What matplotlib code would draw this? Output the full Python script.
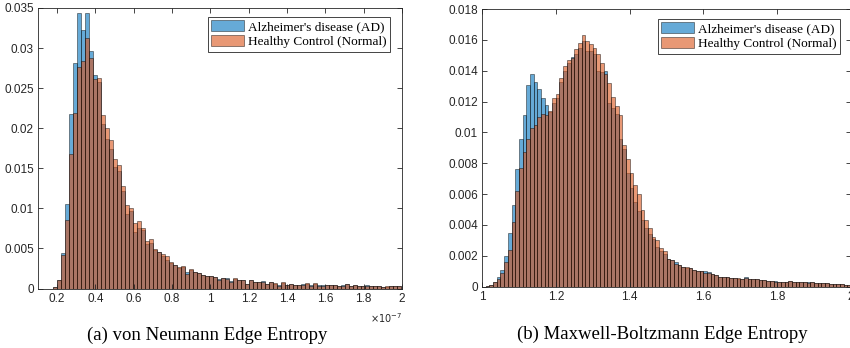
import numpy as np
import matplotlib
matplotlib.use("Agg")
import matplotlib.pyplot as plt

# ---- data (bin heights, probability normalisation) ----
# (a) von Neumann edge entropy, x in units of 1e-7
vn_start = 0.178
vn_width = 0.0209
vn_ad = [0.0002, 0.0011, 0.0044, 0.0105, 0.0218, 0.0281, 0.0344, 0.0323, 0.0344, 0.0296,
         0.0266, 0.0258, 0.0205, 0.0186, 0.0174, 0.0152, 0.0146, 0.0122, 0.0093, 0.0097,
         0.0071, 0.0076, 0.0073, 0.0055, 0.0057, 0.0048, 0.0045, 0.0040, 0.0036, 0.0032,
         0.0029, 0.0026, 0.0027, 0.0021, 0.0023, 0.0020,
         0.0019, 0.0017, 0.0016, 0.0015, 0.0014, 0.0012, 0.0013, 0.0013, 0.0009, 0.0012,
         0.0010, 0.0011, 0.0006, 0.0010, 0.0008, 0.0008, 0.0009, 0.0006, 0.0008, 0.0006,
         0.0004, 0.0007, 0.0004, 0.0005, 0.0004, 0.0004, 0.0005, 0.0006, 0.0004, 0.0006,
         0.0004, 0.0004, 0.0004, 0.0004, 0.0004, 0.0003, 0.0004, 0.0005, 0.0003, 0.0004,
         0.0003, 0.0003, 0.0004, 0.0003, 0.0003, 0.0003, 0.0002, 0.0002, 0.0003, 0.0003, 0.0003]
vn_nc = [0.0002, 0.0011, 0.0042, 0.0086, 0.0168, 0.0219, 0.0276, 0.0284, 0.0313, 0.0288,
         0.0262, 0.0263, 0.0217, 0.0200, 0.0185, 0.0162, 0.0154, 0.0128, 0.0104, 0.0100,
         0.0082, 0.0084, 0.0075, 0.0059, 0.0062, 0.0049, 0.0046, 0.0043, 0.0040, 0.0033,
         0.0029, 0.0027, 0.0028, 0.0018, 0.0024, 0.0021,
         0.0019, 0.0017, 0.0016, 0.0015, 0.0014, 0.0011, 0.0013, 0.0012, 0.00085, 0.0013,
         0.0010, 0.0010, 0.00056, 0.0011, 0.0008, 0.00085, 0.00085, 0.00056, 0.0008, 0.00065,
         0.00035, 0.0008, 0.0004, 0.00056, 0.0004, 0.0004, 0.0004, 0.00065, 0.00035, 0.00065,
         0.00035, 0.00035, 0.0004, 0.0004, 0.0004, 0.0003, 0.00035, 0.0005, 0.00035, 0.0004,
         0.0003, 0.00035, 0.00035, 0.0003, 0.0003, 0.0003, 0.0002, 0.00025, 0.0003, 0.0003, 0.0003]

# (b) Maxwell-Boltzmann edge entropy
mb_start = 1.0
mb_width = 0.01
mb_ad = [0.0, 0.00005, 0.0001, 0.0003, 0.0006, 0.0011, 0.0020, 0.0035, 0.0053, 0.0076,
         0.0096, 0.0111, 0.0131, 0.0138, 0.0133, 0.0128, 0.0122, 0.0118, 0.0113, 0.0119,
         0.0122, 0.0133, 0.0140, 0.0145, 0.0149, 0.0151, 0.0155, 0.0159, 0.0153, 0.0153,
         0.0151, 0.0140, 0.0139, 0.0140, 0.0119, 0.0116, 0.0112, 0.0096, 0.0089, 0.0074,
         0.0064, 0.0055, 0.0049, 0.0043, 0.0038, 0.0034, 0.0031, 0.0026, 0.0023, 0.0021,
         0.0018, 0.0017, 0.0016, 0.0014, 0.0013, 0.0012, 0.0012, 0.0011, 0.0010, 0.0010,
         0.0010, 0.00097, 0.0008, 0.00074, 0.0006, 0.00064, 0.0006, 0.00057, 0.00054, 0.00052,
         0.00052, 0.0006, 0.0005, 0.00048, 0.00047, 0.00043, 0.00042, 0.0004, 0.00039, 0.00039,
         0.00032, 0.0003, 0.00031, 0.0004, 0.00032, 0.00028, 0.00031, 0.00028, 0.00032, 0.00032,
         0.00025, 0.00022, 0.00021, 0.00022, 0.0002, 0.00017, 0.00016, 0.00015, 0.00013, 0.00013]
mb_nc = [0.0, 0.00005, 0.0001, 0.0003, 0.0005, 0.0009, 0.0016, 0.0024, 0.0042, 0.0062,
         0.0077, 0.0087, 0.0096, 0.0103, 0.0105, 0.0110, 0.0112, 0.0111, 0.0114, 0.0122,
         0.0125, 0.0135, 0.0143, 0.0147, 0.0148, 0.0154, 0.0158, 0.0163, 0.0159, 0.0157,
         0.0155, 0.0151, 0.0145, 0.0138, 0.0132, 0.0123, 0.0117, 0.0111, 0.0092, 0.0083,
         0.0074, 0.0066, 0.0060, 0.0050, 0.0043, 0.0038, 0.0032, 0.0030, 0.0025, 0.0023,
         0.0018, 0.0017, 0.0015, 0.0014, 0.0013, 0.0013, 0.0012, 0.0011, 0.00103, 0.0010,
         0.00086, 0.0009, 0.0008, 0.00076, 0.0006, 0.00065, 0.0006, 0.00058, 0.00054, 0.00054,
         0.00052, 0.00054, 0.0005, 0.0005, 0.00048, 0.00043, 0.00043, 0.0004, 0.0004, 0.00032,
         0.00032, 0.0003, 0.00032, 0.00035, 0.00032, 0.00028, 0.00032, 0.00028, 0.00026, 0.00028,
         0.00026, 0.00022, 0.00022, 0.00022, 0.0002, 0.00017, 0.00017, 0.00015, 0.00013, 0.00013]

labels = ["Alzheimer's disease (AD)", "Healthy Control (Normal)"]
blue = (0.0, 0.447, 0.741)
orange = (0.85, 0.325, 0.098)
axcol = (0.15, 0.15, 0.15)

W, H = 850, 348
fig = plt.figure(figsize=(8.5, 3.48), dpi=100)


def style(ax):
    for s in ax.spines.values():
        s.set_color(axcol)
        s.set_linewidth(0.6)
    ax.tick_params(direction='in', top=True, right=True, length=3.5, width=0.6,
                   colors=axcol, labelsize=8.5, pad=3)
    for t in ax.get_xticklabels() + ax.get_yticklabels():
        t.set_fontfamily('Liberation Sans')


def draw(ax, start, width, ad, nc):
    e1 = start + width * np.arange(len(ad))
    e2 = start + width * np.arange(len(nc))
    ax.bar(e1, ad, width=width, align='edge', color=blue, alpha=0.6,
           edgecolor='black', linewidth=0.5, label=labels[0])
    ax.bar(e2, nc, width=width, align='edge', color=orange, alpha=0.6,
           edgecolor='black', linewidth=0.5, label=labels[1])


def fmt(v):
    s = ('%.3f' % v).rstrip('0').rstrip('.')
    return s if s else '0'


# left panel
ax1 = fig.add_axes([38 / W, 1 - 288.5 / H, (402 - 38) / W, (288.5 - 8) / H])
draw(ax1, vn_start, vn_width, vn_ad, vn_nc)
ax1.set_xlim(0.1, 2.0)
ax1.set_ylim(0, 0.035)
xt = np.arange(0.2, 2.01, 0.2)
ax1.set_xticks(xt)
ax1.set_xticklabels([('%.1f' % v).rstrip('0').rstrip('.') for v in xt])
yt = np.arange(0, 0.0351, 0.005)
ax1.set_yticks(yt)
ax1.set_yticklabels([fmt(v) for v in yt])
style(ax1)
ax1.text(1.0, -0.105, r'$\times10^{-7}$', transform=ax1.transAxes, ha='right',
         va='center', fontsize=7, color=axcol)

# right panel (the figure edge clips it, as in the source)
ax2 = fig.add_axes([482 / W, 1 - 286.7 / H, (851 - 482) / W, (286.7 - 9) / H])
draw(ax2, mb_start, mb_width, mb_ad, mb_nc)
ax2.set_xlim(1.0, 2.0)
ax2.set_ylim(0, 0.018)
xt2 = np.arange(1.0, 2.01, 0.2)
ax2.set_xticks(xt2)
ax2.set_xticklabels([('%.1f' % v).rstrip('0').rstrip('.') for v in xt2])
yt2 = np.arange(0, 0.0181, 0.002)
ax2.set_yticks(yt2)
ax2.set_yticklabels([fmt(v) for v in yt2])
style(ax2)

for ax, anchor in [(ax1, ((390 - 38) / 364, 1 - 9 / 280.5)),
                   (ax2, ((840 - 482) / 369, 1 - 10 / 277.7))]:
    leg = ax.legend(loc='upper right', bbox_to_anchor=anchor, borderaxespad=0,
                    prop={'family': 'Liberation Serif', 'size': 9.5},
                    fancybox=False, framealpha=1, edgecolor=axcol,
                    handlelength=2.5, handleheight=0.9, labelspacing=0.15,
                    borderpad=0.25, handletextpad=0.3)
    leg.get_frame().set_linewidth(0.6)

fig.text(207 / W, 1 - 335 / H, '(a) von Neumann Edge Entropy', ha='center', va='center',
         fontsize=13.5, family='Liberation Serif')
fig.text(662 / W, 1 - 334 / H, '(b) Maxwell-Boltzmann Edge Entropy', ha='center',
         va='center', fontsize=13.5, family='Liberation Serif')

fig.savefig('out.png', dpi=100)
